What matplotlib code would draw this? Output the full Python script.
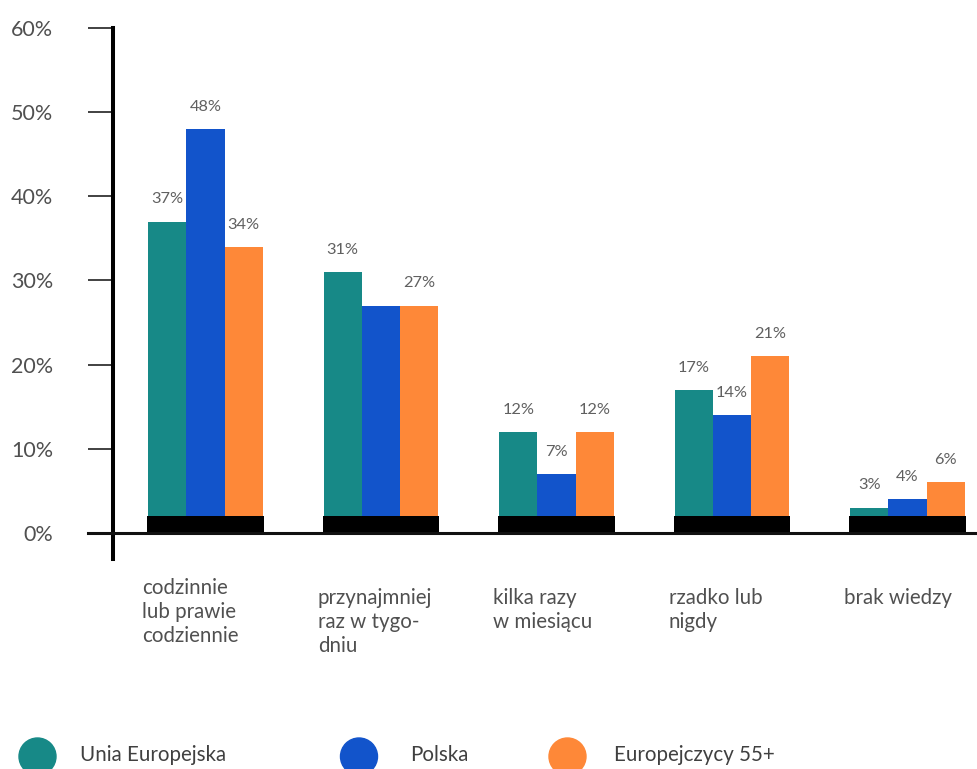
import matplotlib.pyplot as plt
from matplotlib.patches import Ellipse
import numpy as np

plt.rcParams['font.family'] = ['Lato', 'DejaVu Sans']

# Data
categories = ['codzinnie\nlub prawie\ncodziennie', 'przynajmniej\nraz w tygo-\ndniu',
              'kilka razy\nw miesiącu', 'rzadko lub\nnigdy', 'brak wiedzy']
series = ['Unia Europejska', 'Polska', 'Europejczycy 55+']
eu = [37, 31, 12, 17, 3]
pl = [48, 27, 7, 14, 4]
eu55 = [34, 27, 12, 21, 6]
shown = [[True] * 5, [True, False, True, True, True], [True] * 5]  # blue bar in group 2 has no label
colors = ['#178987', '#1254cb', '#fe8838']
yticks = [0, 10, 20, 30, 40, 50, 60]
ytick_labels = ['0%', '10%', '20%', '30%', '40%', '50%', '60%']

fig = plt.figure(figsize=(9.77, 7.69), dpi=100)
ax = fig.add_axes([88 / 977, 210 / 769, 889 / 977, 531 / 769])

# axis lines first: moving a spine resets the ticks
for side in ['top', 'right']:
    ax.spines[side].set_visible(False)
ax.spines['left'].set_position(('data', -0.527))
ax.spines['left'].set_linewidth(2.9)
ax.spines['left'].set_zorder(4)
ax.spines['bottom'].set_position(('data', 0))
ax.spines['bottom'].set_linewidth(2.2)
ax.spines['bottom'].set_color('#111111')
ax.spines['bottom'].set_zorder(4)

x = np.arange(len(categories))
bw = 0.218
for i, vals in enumerate([eu, pl, eu55]):
    pos = x + (i - 1) * bw
    ax.bar(pos, vals, width=bw, color=colors[i], zorder=2)
    for xp, v, s in zip(pos, vals, shown[i]):
        if s:
            ax.annotate(f'{v}%', (xp, v), xytext=(0, 11), textcoords='offset points',
                        ha='center', va='bottom', fontsize=11.8, color='#606060')

# black base strip under each group
ax.bar(x, 2.0, width=3 * bw + 0.01, color='black', zorder=3)

ax.set_xlim(-0.6695, 4.396)
ax.set_ylim(-3.09, 60)
ax.set_xticks([])
ax.set_yticks(yticks)
ax.set_yticklabels(ytick_labels)
ax.tick_params(axis='y', direction='out', length=18, width=1.3, color='#333333', pad=25,
               labelsize=15.5, labelcolor='#505050')

# category names under the axis
label_tops = [-5.4, -6.5, -6.5, -6.5, -6.5]
for xi, name, yt in zip(x, categories, label_tops):
    ax.text(xi - 0.36, yt, name, ha='left', va='top', fontsize=14.8,
            color='#505050', linespacing=1.25, clip_on=False)

# legend row at the bottom
legend_circles = [37.5, 359, 567.5]
legend_texts = [80, 410, 614]
for name, col, cx, tx in zip(series, colors, legend_circles, legend_texts):
    fig.add_artist(Ellipse((cx / 977, 1 - 756.5 / 769), 37 / 977, 37 / 769,
                           transform=fig.transFigure, color=col))
    fig.text(tx / 977, 1 - 755 / 769, name, ha='left', va='center', fontsize=14.8,
             color='#404040')

fig.savefig('out.png', dpi=100)
